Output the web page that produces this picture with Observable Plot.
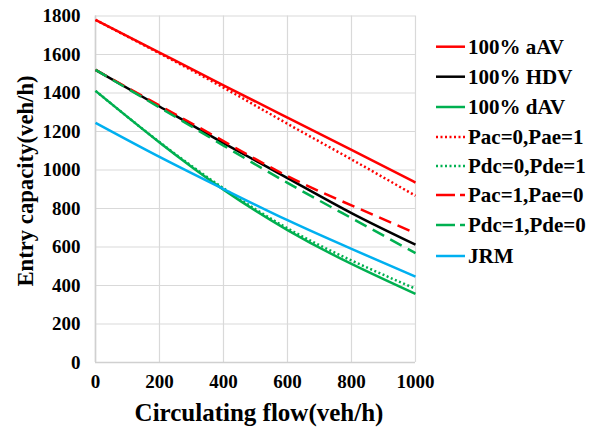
<!DOCTYPE html>
<html>
<head>
<meta charset="utf-8">
<script src="https://cdn.jsdelivr.net/npm/d3@7"></script>
<script src="https://cdn.jsdelivr.net/npm/@observablehq/plot@0.6"></script>
<style>
  html, body { margin: 0; padding: 0; background: #fff; }
  #chart svg { display: block; }
  #chart svg text { font-family: "Liberation Serif", "Times New Roman", serif; font-weight: bold; }
</style>
</head>
<body>
<div id="chart"></div>
<script>
// ---- data ----
const flows = [0, 200, 400, 600, 800, 1000];
const seriesNames = ["100% aAV", "100% HDV", "100% dAV", "Pac=0,Pae=1", "Pdc=0,Pde=1", "Pac=1,Pae=0", "Pdc=1,Pde=0", "JRM"];
const aAV   = [1780, 1610, 1440, 1272, 1104, 935];
const HDV   = [1520, 1330, 1140, 958, 776, 612];
const dAV   = [1411, 1143, 898, 688, 512, 356];
const pac0  = [1780, 1606, 1428, 1240, 1055, 866];
const pdc0  = [1411, 1145, 905, 697, 530, 383];
const pac1  = [1520, 1335, 1150, 968, 816, 672];
const pdc1  = [1520, 1325, 1127, 933, 750, 568];
const JRM   = [1245, 1068, 901, 739, 590, 446];
const xTicks = [0, 200, 400, 600, 800, 1000];
const yTicks = [0, 200, 400, 600, 800, 1000, 1200, 1400, 1600, 1800];

const seriesValues = [aAV, HDV, dAV, pac0, pdc0, pac1, pdc1, JRM];
const seriesColors = ["#ff0000", "#000000", "#00b050", "#ff0000", "#00b050", "#ff0000", "#00b050", "#00b0f0"];
const seriesDash   = [null, null, null, "2,2.5", "2,2.5", "13,7", "13,7", null];

const rows = [];
seriesNames.forEach((name, i) => {
  seriesValues[i].forEach((v, j) => rows.push({series: name, flow: flows[j], cap: v}));
});

const font = "'Liberation Serif', 'Times New Roman', serif";

const marks = [
  Plot.gridX(xTicks, {stroke: "#d9d9d9", strokeOpacity: 1, strokeWidth: 1.2}),
  Plot.gridY(yTicks, {stroke: "#d9d9d9", strokeOpacity: 1, strokeWidth: 1.2}),
  Plot.ruleX([0], {stroke: "#d0d0d0", strokeWidth: 1.6}),
  Plot.ruleY([0], {stroke: "#d0d0d0", strokeWidth: 1.6}),
  Plot.axisX({ticks: xTicks, tickFormat: d3.format("d"), tickSize: 0, tickPadding: 12, label: null, fontSize: 19, fontWeight: "bold", fontFamily: font}),
  Plot.axisY({ticks: yTicks, tickFormat: d3.format("d"), tickSize: 0, tickPadding: 15, label: null, fontSize: 19, fontWeight: "bold", fontFamily: font})
];
seriesNames.forEach((name, i) => {
  marks.push(Plot.line(rows.filter(d => d.series === name), {
    x: "flow", y: "cap", curve: "natural",
    stroke: seriesColors[i], strokeWidth: 2.5,
    strokeDasharray: seriesDash[i] || undefined,
    strokeLinecap: "butt"
  }));
});

const chart = Plot.plot({
  width: 602, height: 432,
  marginLeft: 95, marginRight: 187, marginTop: 15.5, marginBottom: 70,
  style: {fontFamily: font, fontSize: "19px", fontWeight: "bold", color: "#000", background: "#fff"},
  x: {domain: [0, 1000]},
  y: {domain: [0, 1800]},
  marks
});

document.getElementById("chart").appendChild(chart);

const svg = d3.select(chart);
// force tick label styling on every text Plot drew
svg.selectAll("text")
  .style("font-size", "19px")
  .style("font-family", font)
  .style("font-weight", "bold");

svg.append("text")
  .attr("x", 259).attr("y", 421)
  .attr("text-anchor", "middle")
  .style("font-size", "25px").style("font-family", font).style("font-weight", "bold")
  .text("Circulating flow(veh/h)");
svg.append("text")
  .attr("transform", "translate(33,181) rotate(-90)")
  .attr("text-anchor", "middle")
  .style("font-size", "22.7px").style("font-family", font).style("font-weight", "bold")
  .text("Entry capacity(veh/h)");

const lg = svg.append("g");
const rowY = [46.7, 76.7, 107, 137, 166, 195, 225, 256];
seriesNames.forEach((name, i) => {
  const y = rowY[i];
  lg.append("line")
    .attr("x1", 436).attr("x2", 465).attr("y1", y).attr("y2", y)
    .attr("stroke", seriesColors[i]).attr("stroke-width", 2.5)
    .attr("stroke-dasharray", seriesDash[i] === "13,7" ? "19,5" : seriesDash[i]);
  lg.append("text")
    .attr("x", 468).attr("y", y).attr("dy", "0.35em")
    .attr("text-anchor", "start")
    .style("font-size", "21px").style("font-family", font).style("font-weight", "bold")
    .text(name);
});
</script>
</body>
</html>
